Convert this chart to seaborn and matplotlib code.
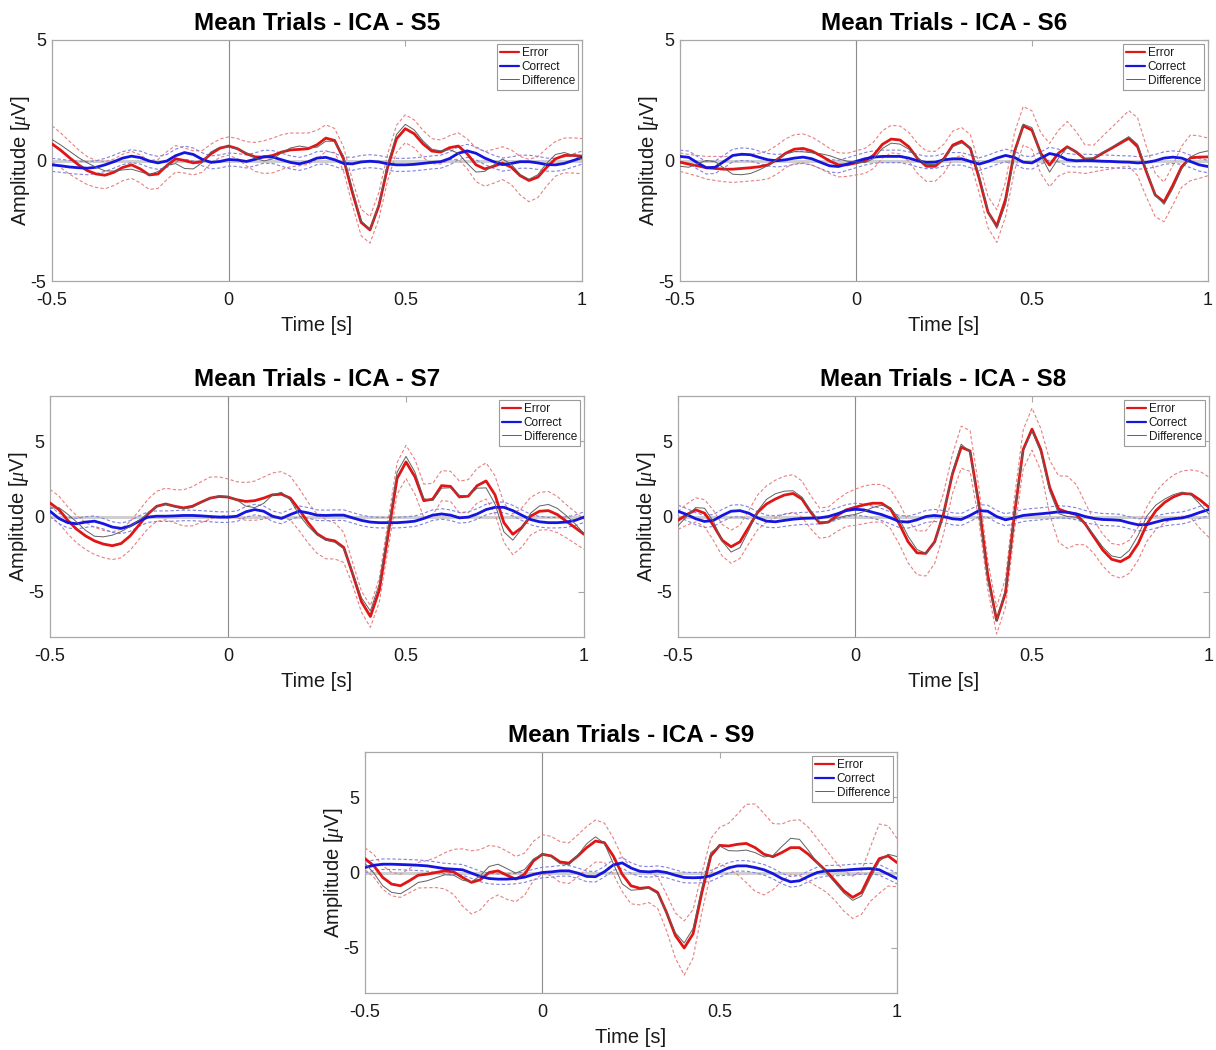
import numpy as np
import pandas as pd
import matplotlib
matplotlib.use("Agg")
import matplotlib.pyplot as plt
import seaborn as sns
from matplotlib.lines import Line2D

# ---------------- data ----------------
time_s = np.linspace(-0.5, 1.0, 61)
subjects = ["S5", "S6", "S7", "S8", "S9"]
x_ticks = [-0.5, 0, 0.5, 1]
x_tick_labels = ["-0.5", "0", "0.5", "1"]
y_ticks = [-5, 0, 5]
y_tick_labels = ["-5", "0", "5"]
y_limits = {"S5": (-5, 5), "S6": (-5, 5), "S7": (-8, 8), "S8": (-8, 8), "S9": (-8, 8)}

s5_error = [0.69, 0.42, 0.11, -0.18, -0.42, -0.56, -0.61, -0.49, -0.29, -0.18, -0.35, -0.6, -0.56, -0.21, 0.07, 0.0, -0.1, -0.04, 0.28, 0.51, 0.6,
            0.49, 0.28, 0.15, 0.14, 0.21, 0.35, 0.44, 0.46, 0.49, 0.65, 0.93, 0.83, 0.07, -1.32, -2.57, -2.88, -1.88, -0.28, 0.9, 1.32,
            1.11, 0.69, 0.39, 0.35, 0.53, 0.6, 0.28, -0.18, -0.35, -0.24, -0.11, -0.28, -0.63, -0.83, -0.69, -0.28, 0.07, 0.21, 0.21, 0.18]
s5_correct = [-0.18, -0.22, -0.27, -0.3, -0.32, -0.28, -0.18, -0.05, 0.1, 0.18, 0.12, -0.02, -0.1, -0.02, 0.2, 0.33, 0.25, 0.05, -0.08, -0.04, 0.04,
              0.02, -0.04, 0.05, 0.16, 0.14, 0.03, -0.08, -0.14, -0.05, 0.1, 0.13, 0.03, -0.12, -0.14, -0.06, -0.03, -0.06, -0.14, -0.18, -0.18,
              -0.16, -0.12, -0.08, -0.05, 0.08, 0.3, 0.4, 0.3, 0.1, -0.05, -0.17, -0.12, -0.05, -0.05, -0.1, -0.17, -0.18, -0.12, 0.0, 0.12]
s5_error_ci = [0.75, 0.72, 0.68, 0.62, 0.58, 0.56, 0.56, 0.55, 0.55, 0.56, 0.58, 0.6, 0.6, 0.58, 0.55, 0.52, 0.5, 0.45, 0.4, 0.38, 0.38,
               0.42, 0.5, 0.6, 0.68, 0.72, 0.72, 0.7, 0.68, 0.65, 0.6, 0.55, 0.5, 0.5, 0.52, 0.55, 0.55, 0.55, 0.55, 0.56, 0.58,
               0.58, 0.56, 0.52, 0.5, 0.5, 0.55, 0.62, 0.7, 0.72, 0.7, 0.68, 0.72, 0.8, 0.88, 0.85, 0.78, 0.72, 0.72, 0.73, 0.73]

s6_error = [-0.07, -0.15, -0.22, -0.3, -0.33, -0.36, -0.36, -0.33, -0.3, -0.26, -0.18, 0.03, 0.3, 0.47, 0.5, 0.39, 0.2, -0.02, -0.18, -0.18, -0.1,
            -0.02, 0.22, 0.67, 0.89, 0.85, 0.57, 0.08, -0.24, -0.24, 0.08, 0.64, 0.8, 0.5, -0.75, -2.14, -2.72, -1.6, 0.36, 1.44, 1.26,
            0.3, -0.19, 0.3, 0.57, 0.36, 0.06, 0.08, 0.3, 0.5, 0.71, 0.92, 0.57, -0.47, -1.43, -1.72, -1.03, -0.26, 0.11, 0.14, 0.15]
s6_correct = [0.17, 0.13, -0.1, -0.3, -0.28, -0.04, 0.21, 0.26, 0.24, 0.13, 0.03, -0.01, 0.03, 0.1, 0.14, 0.07, -0.08, -0.22, -0.25, -0.15, -0.04,
              0.07, 0.14, 0.17, 0.17, 0.17, 0.1, -0.01, -0.08, -0.07, 0.03, 0.07, 0.07, -0.04, -0.15, -0.04, 0.1, 0.21, 0.13, -0.07, -0.1,
              0.1, 0.29, 0.21, 0.03, -0.01, 0.0, -0.01, -0.03, -0.04, -0.06, -0.07, -0.1, -0.08, -0.01, 0.1, 0.14, 0.1, -0.04, -0.18, -0.25]
s6_error_ci = [0.38, 0.4, 0.43, 0.47, 0.5, 0.52, 0.55, 0.55, 0.55, 0.56, 0.58, 0.6, 0.6, 0.6, 0.6, 0.58, 0.55, 0.52, 0.5, 0.48, 0.5,
               0.52, 0.55, 0.57, 0.57, 0.58, 0.6, 0.62, 0.63, 0.62, 0.6, 0.58, 0.57, 0.57, 0.6, 0.65, 0.68, 0.72, 0.78, 0.8, 0.8,
               0.85, 0.9, 0.95, 1.05, 0.85, 0.6, 0.55, 0.7, 0.85, 1.0, 1.15, 1.2, 1.05, 0.9, 0.82, 0.82, 0.85, 0.95, 0.88, 0.78]

s7_error = [0.9, 0.46, -0.26, -0.85, -1.29, -1.62, -1.83, -1.94, -1.79, -1.29, -0.57, 0.17, 0.68, 0.83, 0.68, 0.57, 0.68, 0.96, 1.22, 1.33, 1.29,
            1.11, 1.0, 1.05, 1.22, 1.44, 1.48, 1.22, 0.46, -0.41, -1.14, -1.51, -1.62, -2.05, -3.8, -5.66, -6.64, -4.89, -1.18, 2.53, 3.62,
            2.64, 1.05, 1.15, 2.05, 2.0, 1.3, 1.35, 2.05, 2.36, 1.44, -0.41, -1.18, -0.74, 0.02, 0.35, 0.39, 0.13, -0.31, -0.74, -1.18]
s7_correct = [0.35, -0.13, -0.41, -0.48, -0.37, -0.31, -0.48, -0.7, -0.79, -0.63, -0.31, -0.04, 0.02, 0.02, 0.04, 0.07, 0.07, 0.04, 0.0, -0.04, -0.04,
              0.02, 0.31, 0.46, 0.35, 0.02, -0.13, 0.13, 0.35, 0.24, 0.09, 0.07, 0.09, 0.09, -0.09, -0.26, -0.37, -0.41, -0.41, -0.41, -0.37,
              -0.31, -0.13, 0.09, 0.17, 0.09, -0.09, -0.04, 0.17, 0.46, 0.61, 0.61, 0.39, 0.09, -0.2, -0.35, -0.41, -0.41, -0.37, -0.26, -0.04]
s7_error_ci = [0.9, 0.9, 0.9, 0.9, 0.9, 0.9, 0.9, 0.92, 0.95, 0.95, 0.95, 0.97, 1.0, 1.05, 1.1, 1.2, 1.3, 1.35, 1.4, 1.3, 1.2,
               1.2, 1.25, 1.3, 1.4, 1.45, 1.5, 1.45, 1.4, 1.35, 1.3, 1.3, 1.2, 1.0, 0.75, 0.7, 0.72, 0.8, 0.95, 1.05, 1.1,
               1.15, 1.1, 1.05, 1.0, 1.0, 1.05, 1.1, 1.15, 1.2, 1.26, 1.3, 1.35, 1.3, 1.25, 1.25, 1.27, 1.2, 1.1, 1.05, 1.0]

s8_error = [-0.26, 0.13, 0.44, 0.22, -0.59, -1.58, -2.01, -1.68, -0.7, 0.28, 0.83, 1.16, 1.42, 1.53, 1.16, 0.28, -0.44, -0.37, 0.07, 0.44, 0.61,
            0.77, 0.88, 0.88, 0.5, -0.48, -1.68, -2.41, -2.45, -1.68, 0.18, 2.8, 4.6, 4.35, 0.83, -3.87, -6.9, -5.08, 0.07, 4.44, 5.8,
            4.44, 1.93, 0.5, 0.28, 0.13, -0.48, -1.36, -2.23, -2.84, -3.0, -2.67, -1.79, -0.48, 0.39, 0.94, 1.31, 1.53, 1.49, 1.09, 0.61]
s8_correct = [0.35, 0.13, -0.15, -0.33, -0.26, 0.07, 0.35, 0.39, 0.22, -0.09, -0.31, -0.35, -0.26, -0.18, -0.13, -0.11, -0.09, 0.0, 0.18, 0.39, 0.48,
              0.44, 0.28, 0.13, -0.09, -0.33, -0.37, -0.22, 0.0, 0.07, 0.0, -0.15, -0.2, 0.07, 0.39, 0.35, 0.0, -0.22, -0.09, 0.07, 0.13,
              0.18, 0.24, 0.31, 0.28, 0.18, 0.0, -0.13, -0.2, -0.22, -0.26, -0.42, -0.55, -0.53, -0.37, -0.22, -0.15, -0.09, 0.07, 0.28, 0.46]
s8_error_ci = [0.6, 0.7, 0.8, 0.9, 1.0, 1.05, 1.1, 1.1, 1.1, 1.15, 1.2, 1.25, 1.25, 1.25, 1.2, 1.1, 1.0, 1.0, 1.05, 1.1, 1.2,
               1.25, 1.25, 1.25, 1.3, 1.35, 1.4, 1.45, 1.5, 1.45, 1.35, 1.3, 1.4, 1.35, 1.1, 0.95, 0.9, 0.95, 1.1, 1.3, 1.4,
               1.4, 1.8, 2.2, 2.4, 2.0, 1.4, 1.1, 1.05, 1.05, 1.1, 1.1, 1.1, 1.15, 1.25, 1.35, 1.45, 1.5, 1.6, 1.9, 2.0]

s9_error = [0.92, 0.44, -0.33, -0.77, -0.88, -0.55, -0.18, -0.11, 0.0, 0.11, 0.04, -0.33, -0.66, -0.48, 0.0, 0.11, -0.18, -0.44, -0.11, 0.77, 1.21,
            1.1, 0.7, 0.62, 1.1, 1.65, 2.09, 1.98, 1.1, -0.11, -0.88, -1.05, -0.99, -1.32, -2.64, -4.18, -5.01, -4.07, -1.32, 1.1, 1.8,
            1.76, 1.87, 1.93, 1.65, 1.21, 1.05, 1.32, 1.65, 1.65, 1.21, 0.66, 0.11, -0.55, -1.21, -1.65, -1.32, -0.11, 0.92, 1.1, 0.66]
s9_correct = [0.33, 0.48, 0.55, 0.55, 0.53, 0.51, 0.48, 0.44, 0.35, 0.26, 0.22, 0.18, -0.04, -0.26, -0.4, -0.44, -0.44, -0.4, -0.31, -0.13, 0.0,
              0.04, 0.11, 0.11, -0.04, -0.26, -0.28, 0.05, 0.5, 0.64, 0.3, 0.08, 0.04, 0.09, 0.0, -0.18, -0.33, -0.35, -0.33, -0.22, 0.04,
              0.31, 0.44, 0.44, 0.33, 0.18, -0.07, -0.4, -0.62, -0.55, -0.26, 0.0, 0.11, 0.13, 0.15, 0.2, 0.24, 0.26, 0.18, -0.11, -0.4]
s9_error_ci = [0.73, 0.75, 0.78, 0.78, 0.77, 0.8, 0.85, 0.9, 1.0, 1.2, 1.5, 1.9, 2.1, 2.0, 1.8, 1.6, 1.6, 1.5, 1.4, 1.3, 1.3,
               1.3, 1.35, 1.35, 1.4, 1.4, 1.4, 1.3, 1.2, 1.15, 1.2, 1.1, 1.0, 1.05, 1.2, 1.5, 1.8, 1.6, 1.3, 1.15, 1.2,
               1.5, 2.0, 2.6, 2.9, 2.7, 2.2, 1.9, 1.8, 1.85, 1.8, 1.6, 1.4, 1.3, 1.35, 1.4, 1.45, 1.8, 2.3, 2.0, 1.6]

correct_ci = {"S5": 0.27, "S6": 0.26, "S7": 0.35, "S8": 0.4, "S9": 0.35}

error_means = {"S5": s5_error, "S6": s6_error, "S7": s7_error, "S8": s8_error, "S9": s9_error}
correct_means = {"S5": s5_correct, "S6": s6_correct, "S7": s7_correct, "S8": s8_correct, "S9": s9_correct}
error_cis = {"S5": s5_error_ci, "S6": s6_error_ci, "S7": s7_error_ci, "S8": s8_error_ci, "S9": s9_error_ci}

# ---------------- style ----------------
sns.set_style("white")
plt.rcParams["font.family"] = ["Liberation Sans", "DejaVu Sans"]
plt.rcParams["axes.unicode_minus"] = False
plt.rcParams["mathtext.fontset"] = "custom"
plt.rcParams["mathtext.it"] = "Liberation Serif:italic"
plt.rcParams["mathtext.rm"] = "Liberation Sans"

RED = "#e01515"
BLUE = "#1515e0"
RED_CI = "#e88080"
BLUE_CI = "#8080e0"
DIFF = "#606060"
AXC = "#a8a8a8"
TXT = "#1a1a1a"

fig = plt.figure(figsize=(12.16, 10.5), dpi=100)

positions = {
    "S5": (52, 40, 582, 281),
    "S6": (680, 40, 1208, 281),
    "S7": (50, 396, 584, 637),
    "S8": (678, 396, 1209, 637),
    "S9": (365, 752, 897, 993),
}
W, H = 1216.0, 1050.0

for subj in subjects:
    l, t, r, b = positions[subj]
    ax = fig.add_axes([l / W, 1 - b / H, (r - l) / W, (b - t) / H])
    err = np.array(error_means[subj])
    cor = np.array(correct_means[subj])
    eci = np.array(error_cis[subj])
    cci = correct_ci[subj]
    df = pd.DataFrame({
        "time": time_s,
        "error": err,
        "correct": cor,
        "difference": err - cor,
        "err_hi": err + eci,
        "err_lo": err - eci,
        "cor_hi": cor + cci,
        "cor_lo": cor - cci,
    })

    ax.axhline(0, color="#cfcfcf", lw=2.2, zorder=1)
    ax.axvline(0, color="#8c8c8c", lw=0.8, zorder=1)

    for col, c in [("err_hi", RED_CI), ("err_lo", RED_CI), ("cor_hi", BLUE_CI), ("cor_lo", BLUE_CI)]:
        sns.lineplot(data=df, x="time", y=col, ax=ax, color=c, lw=0.8,
                     linestyle=(0, (3, 2)), zorder=2, legend=False)
    sns.lineplot(data=df, x="time", y="error", ax=ax, color=RED, lw=2.0, zorder=3, legend=False)
    sns.lineplot(data=df, x="time", y="correct", ax=ax, color=BLUE, lw=2.0, zorder=3, legend=False)
    sns.lineplot(data=df, x="time", y="difference", ax=ax, color=DIFF, lw=0.7, zorder=4, legend=False)

    ax.set_xlim(-0.5, 1.0)
    ax.set_ylim(*y_limits[subj])
    ax.set_xticks(x_ticks)
    ax.set_xticklabels(x_tick_labels)
    ax.set_yticks(y_ticks)
    ax.set_yticklabels(y_tick_labels)
    ax.tick_params(axis="both", direction="in", length=4, width=0.8, color=AXC,
                   labelsize=13, labelcolor=TXT, top=True, right=True)
    ax.tick_params(axis="x", pad=8)
    ax.tick_params(axis="y", pad=4)
    for sp in ax.spines.values():
        sp.set_color(AXC)
        sp.set_linewidth(0.9)
    ax.set_xlabel("Time [s]", fontsize=14.5, labelpad=5, color=TXT)
    ax.set_ylabel(r"Amplitude [$\mu$V]", fontsize=14.5, labelpad=-2, color=TXT)
    ax.set_title(f"Mean Trials - ICA - {subj}", fontsize=17.5, fontweight="bold",
                 pad=7, color="#000000")

    handles = [Line2D([], [], color=RED, lw=1.6),
               Line2D([], [], color=BLUE, lw=1.6),
               Line2D([], [], color=DIFF, lw=0.7)]
    leg = ax.legend(handles, ["Error", "Correct", "Difference"], loc="upper right",
                    fontsize=8.5, frameon=True, fancybox=False, framealpha=1,
                    edgecolor="#9a9a9a", handlelength=1.6, handletextpad=0.2,
                    labelspacing=0.15, borderpad=0.25, borderaxespad=0.35)
    leg.get_frame().set_linewidth(0.8)
    for txt in leg.get_texts():
        txt.set_color(TXT)

fig.savefig("out.png", dpi=100)
